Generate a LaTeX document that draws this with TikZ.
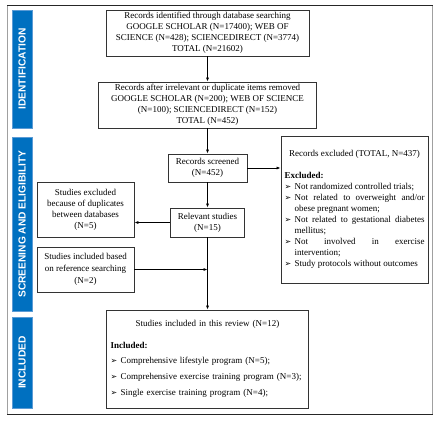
\documentclass[tikz,border=0pt]{standalone}
\usepackage{fontspec}
\setmainfont{Liberation Serif}
\setsansfont{Liberation Sans}
\newfontfamily\dejavu{DejaVu Sans}
\usetikzlibrary{arrows.meta}
\definecolor{barblue}{HTML}{0070C0}
\definecolor{baredge}{HTML}{5B9BD5}
\definecolor{boxline}{HTML}{333333}
\definecolor{framegray}{HTML}{A0A0A0}
\newcommand\abul{{\dejavu\fontsize{8}{11}\selectfont\char"27A2}}
\newcommand\bitem[1]{\par\hangindent=10pt\hangafter=1\noindent\makebox[10pt][l]{\abul}#1}
\begin{document}
\begin{tikzpicture}[x=1pt,y=-1pt,
  every node/.style={font=\fontsize{9}{11}\selectfont},
  box/.style={draw=boxline,line width=0.8pt,align=center,inner sep=0pt},
  bar/.style={fill=barblue,draw=baredge,line width=0.6pt,inner sep=0pt,minimum width=20pt},
  bartext/.style={text=white,font=\sffamily\bfseries\fontsize{10.2}{12}\selectfont,rotate=90},
  arr/.style={draw=black,line width=0.7pt,-{Latex[length=4pt,width=3pt]}},
  ln/.style={draw=black,line width=0.7pt}]
\useasboundingbox (0,0) rectangle (443,420);
% frame
\draw[framegray,line width=0.6pt] (7,5) -- (7,414);
\draw[framegray,line width=0.6pt] (432.5,5) -- (432.5,414);
\draw[black!85,line width=0.9pt] (7,5) -- (433,5);
\draw[black!85,line width=0.9pt] (7,414) -- (433,414);
% bars
\node[bar,minimum height=118pt] (b1) at (22,69) {};
\node[bartext] (t1) at (b1.center) {IDENTIFICATION};
\node[bar,minimum height=174pt] (b2) at (22,224) {};
\node[bartext] (t2) at (b2.center) {SCREENING AND ELIGIBILITY};
\node[bar,minimum height=91pt] (b3) at (22,362.5) {};
\node[bartext] (t3) at (b3.center) {INCLUDED};
% boxes
\node[box,minimum width=203pt,minimum height=46pt] (id) at (207.5,33)
 {Records identified through database searching\\GOOGLE SCHOLAR (N=17400); WEB OF\\SCIENCE (N=428); SCIENCEDIRECT (N=3774)\\TOTAL (N=21602)};
\node[box,minimum width=218pt,minimum height=46pt] (rem) at (207.5,105)
 {Records after irrelevant or duplicate items removed\\GOOGLE SCHOLAR (N=200); WEB OF SCIENCE\\(N=100); SCIENCEDIRECT (N=152)\\TOTAL (N=452)};
\node[box,minimum width=79pt,minimum height=28pt] (scr) at (207.5,168)
 {Records screened\\(N=452)};
\node[box,minimum width=74pt,minimum height=29pt] (rel) at (207.5,222.5)
 {Relevant studies\\(N=15)};
\node[box,minimum width=97pt,minimum height=55pt] (dup) at (85.5,209.5)
 {Studies excluded\\because of duplicates\\between databases\\(N=5)};
\node[box,minimum width=97pt,minimum height=45pt,font=\fontsize{9}{12}\selectfont] (ref) at (85.5,269.5)
 {Studies included based\\on reference searching\\(N=2)};
\node[box,minimum width=147pt,minimum height=147pt,text width=140pt,align=justify,inner xsep=3.5pt] (exc) at (354.5,209.5)
 {\hyphenpenalty=10000\exhyphenpenalty=10000\emergencystretch=20pt
 {\centering Records excluded (TOTAL, N=437)\par}\vspace{11pt}
 \noindent\textbf{Excluded:}
 \bitem{Not randomized controlled trials;}
 \bitem{Not related to overweight and/or obese pregnant women;}
 \bitem{Not related to gestational diabetes mellitus;}
 \bitem{Not involved in exercise intervention;}
 \bitem{Study protocols without outcomes}\par\vspace{4pt}};
\node[box,minimum width=202pt,minimum height=98pt,text width=194pt,align=left,inner xsep=4pt] (inc) at (207.5,359)
 {{\centering Studies included in this review (N=12)\par}\vspace{11pt}
 \noindent\textbf{Included:}\par\vspace{4pt}
 \bitem{Comprehensive lifestyle program (N=5);}\par\vspace{5pt}
 \bitem{Comprehensive exercise training program (N=3);}\par\vspace{5pt}
 \bitem{Single exercise training program (N=4);}\par\vspace{2pt}};
% connectors
\coordinate (join) at (ref.east -| rel.south);
\draw[arr] (id) -- (rem);
\draw[arr] (rem) -- (scr);
\draw[arr] (scr.east) -- (scr.east -| exc.west);
\draw[arr] (scr) -- (rel);
\draw[arr] (rel.west) -- (rel.west -| dup.east);
\draw[arr] (ref.east) -- (join);
\draw[arr] (rel.south) -- (inc.north);
\end{tikzpicture}
\end{document}
